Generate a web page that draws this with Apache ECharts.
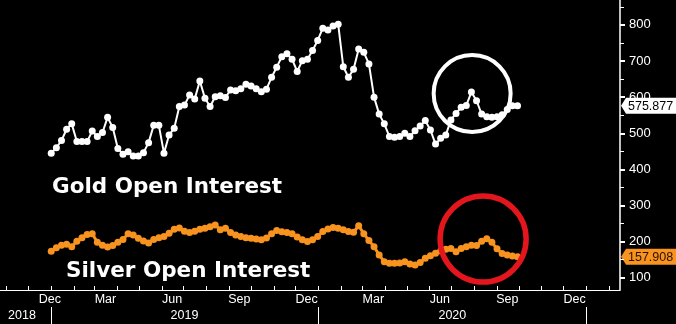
<!DOCTYPE html>
<html><head><meta charset="utf-8">
<script src="https://cdn.jsdelivr.net/npm/echarts@6/dist/echarts.min.js"></script>
<style>html,body{margin:0;padding:0;background:#000;}#c{width:676px;height:324px;}</style>
</head><body><div id="c"></div>
<script>
// ---- data ----
const firstWeek = '2019-01-01';   // weekly observations
const gold = [445, 460, 480, 511, 526, 477, 477, 477, 506, 491, 502, 544, 516, 458, 442, 449, 437, 437, 446, 474,
  522, 522, 445, 495, 514, 574, 578, 606, 595, 645, 597, 574, 601, 604, 599, 620, 618, 623, 636, 631,
  623, 615, 622, 655, 683, 712, 720, 705, 671, 701, 705, 729, 757, 791, 786, 797, 802, 684, 655, 677,
  733, 724, 692, 600, 553, 526, 491, 489, 491, 500, 491, 507, 520, 535, 509, 470, 486, 495, 537, 555,
  572, 577, 614, 590, 553, 546, 544, 546, 551, 566, 576, 575.877];
const silver = [173, 183, 190, 193, 186, 201, 211, 220, 222, 198, 190, 185, 189, 198, 206, 222, 218, 209, 202, 196,
  206, 211, 214, 223, 234, 238, 229, 225, 229, 234, 237, 241, 246, 233, 237, 225, 218, 214, 211, 209,
  207, 205, 210, 222, 231, 227, 225, 222, 213, 205, 200, 205, 214, 228, 235, 239, 237, 233, 228, 226,
  244, 222, 203, 186, 163, 144, 140, 140, 141, 144, 138, 135, 142, 154, 161, 168, 174, 179, 181, 172,
  181, 186, 190, 189, 201, 208, 198, 180, 167, 163, 160, 157.908];
const xRange = ['2018-10-23', '2021-02-16'];
const yRange = [66, 869];
const monthTickDates = ['2018-11-01','2018-12-01','2019-01-01','2019-02-01','2019-03-01','2019-04-01','2019-05-01','2019-06-01',
  '2019-07-01','2019-08-01','2019-09-01','2019-10-01','2019-11-01','2019-12-01','2020-01-01','2020-02-01','2020-03-01',
  '2020-04-01','2020-05-01','2020-06-01','2020-07-01','2020-08-01','2020-09-01','2020-10-01','2020-11-01','2020-12-01',
  '2021-01-01','2021-02-01'];
const monthLabelDates = ['2018-12-30','2019-03-16','2019-06-15','2019-09-15','2019-12-16','2020-03-16','2020-06-15','2020-09-15','2020-12-16'];
const monthLabels = ['Dec','Mar','Jun','Sep','Dec','Mar','Jun','Sep','Dec'];
const yearTickDates = ['2019-01-01','2020-01-01','2021-01-01'];
const yearLabelDates = ['2018-11-22','2019-07-02','2020-07-02'];
const yearLabels = ['2018','2019','2020'];
const yTicks = [100, 200, 300, 400, 500, 600, 700, 800];
const yMinorTicks = [150, 250, 350, 450, 550, 650, 750, 850];
const goldTitle = 'Gold Open Interest';
const silverTitle = 'Silver Open Interest';
const goldCircle = {date: '2020-07-29', value: 610};
const silverCircle = {date: '2020-08-13', value: 207};

// ---- helpers ----
const T = s => new Date(s + 'T00:00:00').getTime();
const DAY = 86400000;
const weekDates = gold.map((_, i) => T(firstWeek) + i * 7 * DAY);
const goldData = gold.map((v, i) => [weekDates[i], v]);
const silverData = silver.map((v, i) => [weekDates[i], v]);
const lookup = (times, texts) => v => { let b = 0, bd = Infinity; times.forEach((t, i) => { const d = Math.abs(T(t) - v); if (d < bd) { bd = d; b = i; } }); return texts[b]; };

const GOLD = '#ffffff', SILVER = '#f7931e';
const FONT = 'Liberation Sans';
const TITLE_FONT = 'bold 21.5px "DejaVu Sans"';

const chart = echarts.init(document.getElementById('c'), null, {renderer: 'canvas'});
const option = {
  backgroundColor: '#000',
  animation: false,
  grid: {left: 0, right: 56, top: 0, bottom: 34, containLabel: false},
  xAxis: [{
    type: 'value', min: T(xRange[0]), max: T(xRange[1]), position: 'bottom',
    axisLine: {show: true, lineStyle: {color: '#fff', width: 1}},
    axisTick: {show: true, inside: true, length: 4, customValues: monthTickDates.map(T), lineStyle: {color: '#fff'}},
    axisLabel: {show: true, customValues: monthLabelDates.map(T), formatter: lookup(monthLabelDates, monthLabels),
      color: '#fff', fontFamily: FONT, fontSize: 12.5, margin: 3, hideOverlap: false},
    splitLine: {show: false}
  }, {
    type: 'value', min: T(xRange[0]), max: T(xRange[1]), position: 'bottom', offset: 17,
    axisLine: {show: false},
    axisTick: {show: true, length: 18, customValues: yearTickDates.map(T), lineStyle: {color: '#fff'}},
    axisLabel: {show: true, customValues: yearLabelDates.map(T), formatter: lookup(yearLabelDates, yearLabels),
      color: '#fff', fontFamily: FONT, fontSize: 12.5, margin: 2, hideOverlap: false},
    splitLine: {show: false}
  }],
  yAxis: [{
    type: 'value', position: 'right', min: yRange[0], max: yRange[1],
    axisLine: {show: true, lineStyle: {color: '#fff', width: 1.5}},
    axisTick: {show: true, length: 5, customValues: yTicks, lineStyle: {color: '#fff', width: 2}},
    axisLabel: {show: true, customValues: yTicks, color: '#fff', fontFamily: FONT, fontSize: 13, margin: 9},
    splitLine: {show: false}
  }, {
    type: 'value', position: 'right', min: yRange[0], max: yRange[1],
    axisLine: {show: false},
    axisTick: {show: true, length: 4, customValues: yMinorTicks, lineStyle: {color: '#fff', width: 1}},
    axisLabel: {show: false},
    splitLine: {show: false}
  }],
  series: [{
    name: 'Gold', type: 'line', data: goldData, xAxisIndex: 0, yAxisIndex: 0,
    symbol: 'circle', symbolSize: 7, showAllSymbol: true,
    lineStyle: {color: GOLD, width: 2}, itemStyle: {color: GOLD, borderWidth: 0}, z: 3
  }, {
    name: 'Silver', type: 'line', data: silverData, xAxisIndex: 0, yAxisIndex: 0,
    symbol: 'circle', symbolSize: 7, showAllSymbol: true,
    lineStyle: {color: SILVER, width: 3}, itemStyle: {color: SILVER, borderWidth: 0}, z: 3
  }]
};
chart.setOption(option);

const W = chart.getWidth();
const axisX = chart.convertToPixel({xAxisIndex: 0}, T(xRange[1]));
function tag(v, bg, fg) {
  const y = chart.convertToPixel({yAxisIndex: 0}, v);
  return {type: 'group', z: 100, children: [
    {type: 'polygon', shape: {points: [[axisX + 1, y], [axisX + 6, y - 8], [W, y - 8], [W, y + 8], [axisX + 6, y + 8]]}, style: {fill: bg}},
    {type: 'text', x: axisX + 8, y: y + 0.5, style: {text: v.toFixed(3), fill: fg, font: '12.5px "' + FONT + '"', verticalAlign: 'middle'}}
  ]};
}
function ring(c, r, color, w) {
  const p = chart.convertToPixel({xAxisIndex: 0, yAxisIndex: 0}, [T(c.date), c.value]);
  return {type: 'circle', z: 50, shape: {cx: p[0], cy: p[1], r: r}, style: {fill: 'none', stroke: color, lineWidth: w}};
}
chart.setOption({graphic: [
  {type: 'text', left: 52, top: 176, z: 60, style: {text: goldTitle, fill: '#fff', font: TITLE_FONT}},
  {type: 'text', left: 66, top: 260, z: 60, style: {text: silverTitle, fill: '#fff', font: TITLE_FONT}},
  ring(goldCircle, 38.5, '#ffffff', 4),
  ring(silverCircle, 43, '#e3161e', 5.5),
  tag(gold[gold.length - 1], '#ffffff', '#000000'),
  tag(silver[silver.length - 1], SILVER, '#2a1200')
]});
</script>
</body></html>
